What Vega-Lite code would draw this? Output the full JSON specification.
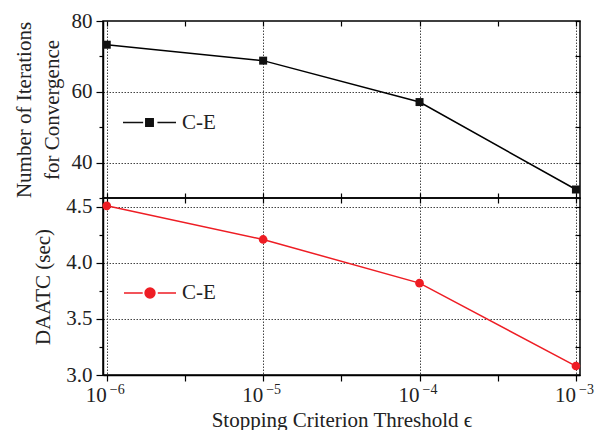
{
  "$schema": "https://vega.github.io/schema/vega-lite/v6.json",
  "padding": {"left": 12, "top": 9, "right": 5, "bottom": 2},
  "bounds": "flush",
  "config": {
    "font": "Liberation Serif",
    "view": {"stroke": "black", "strokeWidth": 1.5},
    "axis": {
      "labelFont": "Liberation Serif",
      "titleFont": "Liberation Serif",
      "labelFontSize": 21,
      "titleFontSize": 21,
      "titleFontWeight": "normal",
      "labelColor": "#222",
      "titleColor": "#222",
      "domainColor": "black",
      "domainWidth": 1.5,
      "tickColor": "black",
      "tickWidth": 1.2,
      "gridDash": [1.5, 1.5],
      "gridWidth": 1
    },
    "legend": {"labelFont": "Liberation Serif", "labelFontSize": 21, "labelColor": "#222"}
  },
  "resolve": {"scale": {"color": "independent"}, "legend": {"color": "independent"}},
  "spacing": 0,
  "vconcat": [
    {
      "width": 477,
      "height": 177,
      "data": {"values": [
        {"eps": 0.000001, "iter": 73.3, "series": "C-E"},
        {"eps": 0.00001, "iter": 68.8, "series": "C-E"},
        {"eps": 0.0001, "iter": 57.1, "series": "C-E"},
        {"eps": 0.001, "iter": 32.4, "series": "C-E"}
      ]},
      "resolve": {"axis": {"x": "independent", "y": "independent"}},
      "layer": [
        {
          "mark": {"type": "line", "color": "black", "strokeWidth": 1.5},
          "encoding": {
            "x": {"field": "eps", "type": "quantitative",
              "scale": {"type": "log", "domain": [9.462e-7, 1.0617e-3], "nice": false},
              "axis": {"orient": "bottom", "title": null, "labels": false, "ticks": false, "domain": false,
                "values": [0.000001, 0.00001, 0.0001, 0.001],
                "gridColor": "#444"}},
            "y": {"field": "iter", "type": "quantitative",
              "scale": {"domain": [30, 80], "nice": false, "zero": false},
              "axis": {"orient": "left", "values": [30, 40, 50, 60, 70, 80],
                "title": ["Number of Iterations", "for Convergence"],
                "titlePadding": 9, "labelPadding": 4, "titleLineHeight": 28,
                "labelExpr": "datum.value % 20 == 0 ? datum.value : ''",
                "tickSize": {"condition": {"test": "datum.value % 20 == 0", "value": 7}, "value": 4},
                "gridColor": {"condition": {"test": "datum.value % 20 == 0 && datum.value < 80", "value": "#444"}, "value": "transparent"}}}
          }
        },
        {
          "mark": {"type": "point", "shape": "square", "filled": true, "size": 64, "opacity": 1},
          "encoding": {
            "x": {"field": "eps", "type": "quantitative",
              "axis": {"orient": "bottom", "title": null, "labels": false, "grid": false, "domain": false,
                "offset": -5, "tickSize": 5,
                "values": [0.000001, 0.0000031623, 0.00001, 0.000031623, 0.0001, 0.00031623, 0.001]}},
            "y": {"field": "iter", "type": "quantitative", "axis": null},
            "color": {"field": "series", "type": "nominal",
              "scale": {"range": ["#111"]},
              "legend": {"title": null, "orient": "none", "legendX": 19, "legendY": 74,
                "symbolType": "M-1,0H-0.24M-0.14,-0.14H0.14V0.14H-0.14ZM0.3,0H1",
                "symbolSize": 2809, "symbolStrokeWidth": 1.5,
                "symbolFillColor": "#111", "symbolStrokeColor": "#111", "labelOffset": 5}}
          }
        },
        {
          "mark": {"type": "point", "opacity": 0},
          "encoding": {
            "x": {"field": "eps", "type": "quantitative",
              "axis": {"orient": "top", "title": null, "labels": false, "grid": false, "domain": false,
                "values": [0.000001, 0.0000031623, 0.00001, 0.000031623, 0.0001, 0.00031623, 0.001],
                "offset": -5, "tickSize": 5}},
            "y": {"field": "iter", "type": "quantitative",
              "axis": {"orient": "right", "title": null, "labels": false, "grid": false, "domain": false,
                "values": [30, 40, 50, 60, 70, 80], "offset": -5, "tickSize": 5}}
          }
        }
      ]
    },
    {
      "width": 477,
      "height": 177,
      "data": {"values": [
        {"eps": 0.000001, "t": 4.51, "series": "C-E"},
        {"eps": 0.00001, "t": 4.21, "series": "C-E"},
        {"eps": 0.0001, "t": 3.82, "series": "C-E"},
        {"eps": 0.001, "t": 3.08, "series": "C-E"}
      ]},
      "resolve": {"axis": {"x": "independent", "y": "independent"}},
      "layer": [
        {
          "mark": {"type": "line", "color": "#ee1d24", "strokeWidth": 1.5},
          "encoding": {
            "x": {"field": "eps", "type": "quantitative",
              "scale": {"type": "log", "domain": [9.462e-7, 1.0617e-3], "nice": false},
              "axis": {"orient": "bottom", "title": "Stopping Criterion Threshold ϵ",
                "titlePadding": 4, "labelPadding": 3, "tickSize": 6, "labelOffset": -11,
                "values": [0.000001, 0.0000031623, 0.00001, 0.000031623, 0.0001, 0.00031623, 0.001],
                "labelExpr": "abs(log(datum.value)/LN10 - round(log(datum.value)/LN10)) < 0.01 ? '10' : ''",
                "gridColor": {"condition": {"test": "abs(log(datum.value)/LN10 - round(log(datum.value)/LN10)) < 0.01", "value": "#444"}, "value": "transparent"}}},
            "y": {"field": "t", "type": "quantitative",
              "scale": {"domain": [3.0, 4.58], "nice": false, "zero": false},
              "axis": {"orient": "left", "values": [3.0, 3.25, 3.5, 3.75, 4.0, 4.25, 4.5],
                "title": "DAATC (sec)", "titlePadding": 12, "labelPadding": 4,
                "labelExpr": "(datum.value * 2) % 1 == 0 ? format(datum.value, '.1f') : ''",
                "tickSize": {"condition": {"test": "(datum.value * 2) % 1 == 0", "value": 7}, "value": 4},
                "gridColor": {"condition": {"test": "(datum.value * 2) % 1 == 0 && datum.value > 3", "value": "#444"}, "value": "transparent"}}}
          }
        },
        {
          "mark": {"type": "point", "shape": "circle", "filled": true, "size": 75, "opacity": 1},
          "encoding": {
            "x": {"field": "eps", "type": "quantitative",
              "axis": {"orient": "top", "title": null, "labels": false, "grid": false, "domain": false,
                "values": [0.000001, 0.0000031623, 0.00001, 0.000031623, 0.0001, 0.00031623, 0.001],
                "offset": -5, "tickSize": 5}},
            "y": {"field": "t", "type": "quantitative", "axis": null},
            "color": {"field": "series", "type": "nominal",
              "scale": {"range": ["#ee1d24"]},
              "legend": {"title": null, "orient": "none", "legendX": 20, "legendY": 68,
                "symbolType": "M-1,0H-0.28M0.19,0A0.19,0.19 0 1,1 -0.19,0A0.19,0.19 0 1,1 0.19,0ZM0.3,0H1",
                "symbolSize": 2704, "symbolStrokeWidth": 1.5,
                "symbolFillColor": "#ee1d24", "symbolStrokeColor": "#ee1d24", "labelOffset": 5}}
          }
        },
        {
          "mark": {"type": "point", "opacity": 0},
          "encoding": {
            "x": {"field": "eps", "type": "quantitative",
              "axis": {"orient": "bottom", "title": null, "grid": false, "domain": false,
                "tickSize": 6, "tickOpacity": 0, "labelPadding": 1,
                "labelFontSize": 14, "labelOffset": 10,
                "values": [0.000001, 0.00001, 0.0001, 0.001],
                "labelExpr": "'−' + format(-round(log(datum.value)/LN10), 'd')"}},
            "y": {"field": "t", "type": "quantitative",
              "axis": {"orient": "right", "title": null, "labels": false, "grid": false, "domain": false,
                "values": [3.0, 3.25, 3.5, 3.75, 4.0, 4.25, 4.5], "offset": -5, "tickSize": 5}}
          }
        }
      ]
    }
  ]
}
